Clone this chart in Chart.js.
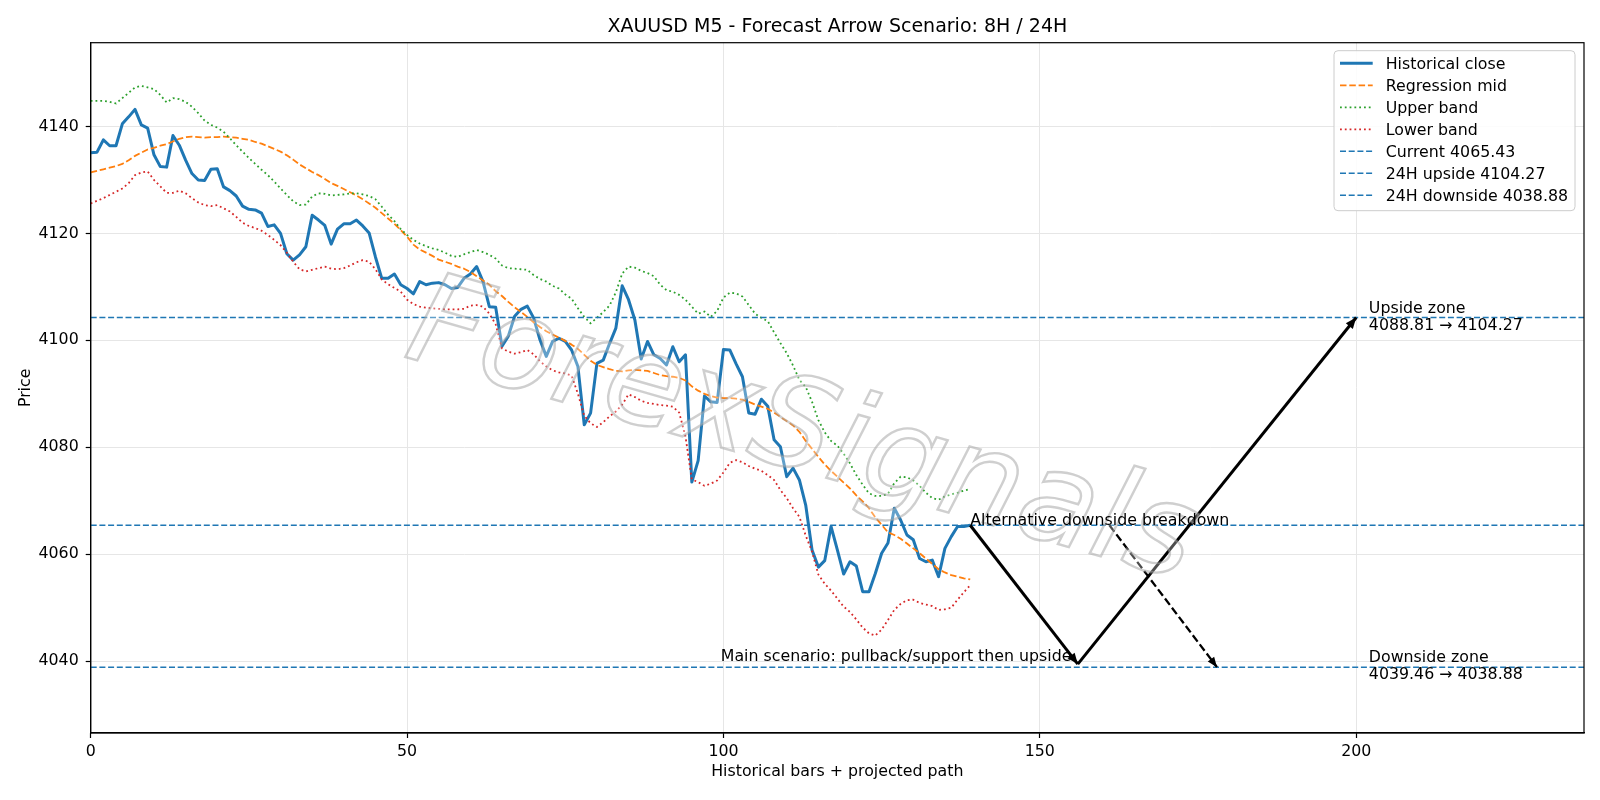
<!DOCTYPE html>
<html>
<head>
<meta charset="utf-8">
<script src="https://cdn.jsdelivr.net/npm/chart.js@4.4.1/dist/chart.umd.min.js"></script>
<style>
  html, body { margin: 0; padding: 0; background: #ffffff; }
  #wrap { width: 1600px; height: 800px; }
</style>
</head>
<body>
<div id="wrap"><canvas id="c" width="1600" height="800"></canvas></div>
<script>
// ---------------- DATA ----------------
const chartTitle = 'XAUUSD M5 - Forecast Arrow Scenario: 8H / 24H';
const xAxisTitle = 'Historical bars + projected path';
const yAxisTitle = 'Price';
const watermarkText = 'ForexSignals';

const historicalClose = [
  4135.1, 4135.2, 4137.5, 4136.4, 4136.4, 4140.5, 4141.8, 4143.2, 4140.3, 4139.7,
  4134.7, 4132.5, 4132.4, 4138.3, 4136.5, 4133.7, 4131.2, 4130.0, 4129.9, 4132.0,
  4132.1, 4128.7, 4128.0, 4127.0, 4125.1, 4124.5, 4124.4, 4123.8, 4121.3, 4121.6,
  4120.0, 4116.2, 4115.0, 4116.0, 4117.5, 4123.4, 4122.5, 4121.5, 4118.0, 4120.8,
  4121.8, 4121.8, 4122.5, 4121.4, 4120.1, 4115.6, 4111.6, 4111.6, 4112.4, 4110.4,
  4109.7, 4108.7, 4111.0, 4110.4, 4110.7, 4110.8, 4110.4, 4109.7, 4109.9, 4111.6,
  4112.4, 4113.8, 4111.0, 4106.3, 4106.2, 4098.9, 4100.8, 4104.5, 4105.8, 4106.4,
  4104.2, 4100.1, 4097.0, 4099.8, 4100.4, 4099.8, 4098.2, 4095.1, 4084.2, 4086.4,
  4095.7, 4096.3, 4099.4, 4102.3, 4110.2, 4107.6, 4103.8, 4096.5, 4099.8, 4097.3,
  4096.6, 4095.4, 4098.8, 4096.0, 4097.3, 4073.5, 4077.5, 4089.6, 4088.5, 4088.4,
  4098.3, 4098.2, 4095.6, 4093.2, 4086.4, 4086.2, 4089.0, 4087.7, 4081.4, 4080.1,
  4074.5, 4076.1, 4073.9, 4069.2, 4060.8, 4057.6, 4058.8, 4065.2, 4060.8, 4056.3,
  4058.6, 4057.8, 4053.0, 4053.0, 4056.4, 4060.2, 4062.1, 4068.6, 4066.4, 4063.6,
  4062.7, 4059.2, 4058.6, 4058.9, 4055.8, 4061.1, 4063.3, 4065.2, 4065.2, 4065.43
];

const regressionMid = [
  4131.4, 4131.7, 4132.0, 4132.3, 4132.6, 4133.0, 4133.7, 4134.5, 4135.1, 4135.7,
  4136.0, 4136.4, 4136.7, 4137.2, 4137.7, 4138.0, 4138.1, 4138.0, 4137.9, 4138.0,
  4138.0, 4138.1, 4138.0, 4137.9, 4137.7, 4137.5, 4137.1, 4136.8, 4136.3, 4135.8,
  4135.3, 4134.6, 4133.8, 4132.9, 4132.2, 4131.5, 4130.9, 4130.2, 4129.4, 4128.9,
  4128.3, 4127.7, 4127.1, 4126.4, 4125.6, 4124.8, 4123.8, 4122.8, 4121.8, 4120.6,
  4119.4, 4117.9, 4117.0, 4116.4, 4115.8, 4115.1, 4114.7, 4114.3, 4113.8, 4113.4,
  4112.8, 4112.0, 4111.2, 4110.4, 4109.2, 4108.3, 4107.2, 4106.2, 4105.3, 4104.4,
  4103.4, 4102.5, 4101.7, 4101.1, 4100.5, 4099.9, 4099.2, 4098.4, 4097.3, 4096.2,
  4095.4, 4095.0, 4094.6, 4094.3, 4094.2, 4094.4, 4094.5, 4094.4, 4094.3, 4093.9,
  4093.5, 4093.3, 4093.2, 4093.0, 4092.5, 4091.4, 4090.6, 4090.0, 4089.6, 4089.3,
  4089.2, 4089.2, 4089.1, 4088.9, 4088.5, 4088.0, 4087.6, 4087.2, 4086.5, 4085.7,
  4084.9, 4084.1, 4082.9, 4081.2, 4079.7, 4078.2, 4076.8, 4075.6, 4074.5, 4073.4,
  4072.3, 4071.0, 4069.9, 4068.6, 4066.9, 4065.5, 4064.1, 4063.6, 4062.9, 4062.0,
  4061.1, 4060.2, 4059.2, 4058.2, 4057.2, 4056.6, 4056.1, 4055.8, 4055.5, 4055.3
];

const upperBand = [
  4144.8, 4144.8, 4144.8, 4144.6, 4144.3, 4145.3, 4146.3, 4147.3, 4147.6, 4147.3,
  4147.0, 4145.9, 4144.5, 4145.3, 4145.1, 4144.6, 4143.7, 4142.5, 4141.1, 4140.3,
  4139.8, 4139.0, 4137.8, 4136.5, 4135.3, 4134.1, 4133.0, 4131.9, 4130.9, 4129.7,
  4128.4, 4127.2, 4126.0, 4125.3, 4125.4, 4126.9, 4127.5, 4127.4, 4127.1, 4127.2,
  4127.3, 4127.5, 4127.5, 4127.3, 4127.0, 4126.4, 4125.0, 4123.5, 4122.3, 4120.8,
  4119.7, 4118.8, 4118.1, 4117.6, 4117.2, 4116.9, 4116.4, 4115.8, 4115.6, 4116.1,
  4116.5, 4116.9, 4116.5, 4116.0, 4115.3, 4114.0, 4113.5, 4113.4, 4113.3, 4113.2,
  4112.2, 4111.5, 4111.0, 4110.2, 4109.7, 4108.6, 4107.8, 4106.0, 4104.4, 4103.2,
  4104.2, 4105.3, 4106.5, 4109.0, 4112.5, 4113.8, 4113.6, 4113.0, 4112.6, 4112.0,
  4110.4, 4109.4, 4109.1, 4108.5, 4107.6, 4106.3, 4105.0, 4105.4, 4104.4, 4105.5,
  4108.0, 4108.9, 4108.8, 4108.2, 4106.6, 4105.0, 4104.2, 4103.6, 4101.5, 4099.5,
  4097.6, 4095.3, 4092.6, 4091.3, 4088.5, 4085.1, 4082.8, 4081.2, 4080.3, 4078.8,
  4077.0, 4074.8, 4073.0, 4071.4, 4070.9, 4070.9, 4071.3, 4073.3, 4074.5, 4074.4,
  4073.8, 4072.8, 4071.5, 4070.5, 4070.2, 4070.8, 4071.2, 4071.5, 4071.9, 4072.2
];

const lowerBand = [
  4125.6, 4126.1, 4126.6, 4127.2, 4127.8, 4128.4, 4129.4, 4130.9, 4131.4, 4131.6,
  4130.0, 4128.8, 4127.6, 4127.6, 4128.0, 4127.5, 4126.6, 4125.8, 4125.3, 4125.1,
  4125.3, 4124.7, 4124.1, 4123.1, 4122.0, 4121.4, 4121.0, 4120.5, 4119.7, 4118.8,
  4117.8, 4116.4, 4114.7, 4113.3, 4112.9, 4113.2, 4113.5, 4113.8, 4113.4, 4113.3,
  4113.5, 4114.0, 4114.6, 4115.0, 4114.7, 4113.3, 4111.4, 4110.5, 4109.8, 4109.1,
  4107.6, 4106.8, 4106.3, 4106.1, 4106.0, 4105.9, 4105.8, 4105.8, 4105.8, 4105.9,
  4106.5, 4106.6, 4106.3, 4105.0, 4103.0, 4098.5, 4097.9, 4097.5, 4097.8, 4098.2,
  4097.4, 4096.1, 4095.1, 4094.4, 4094.0, 4093.8, 4093.4, 4090.0, 4085.9, 4084.5,
  4083.8, 4084.7, 4085.8, 4086.7, 4088.0, 4089.9, 4089.4, 4088.7, 4088.3, 4088.1,
  4087.9, 4087.8, 4087.6, 4086.5, 4082.0, 4074.0, 4073.5, 4072.8, 4073.2, 4073.8,
  4075.3, 4077.1, 4077.6, 4077.2, 4076.5, 4076.0, 4075.6, 4074.8, 4073.9, 4072.0,
  4070.5, 4068.6, 4067.0, 4063.5, 4060.5, 4056.2, 4054.5, 4053.2, 4051.7, 4050.2,
  4049.2, 4047.8, 4046.3, 4045.2, 4044.8, 4045.9, 4047.7, 4049.6, 4050.7, 4051.4,
  4051.5, 4050.9, 4050.6, 4050.3, 4049.6, 4049.7, 4050.0, 4051.5, 4052.9, 4054.2
];

// key levels
const currentPrice = 4065.43;
const upside24H = 4104.27;
const downside24H = 4038.88;
const upsideZone = [4088.81, 4104.27];
const downsideZone = [4039.46, 4038.88];

// projected scenario paths (bar index, price)
const mainPathX = [139, 156, 200];
const mainPathY = [4065.43, 4039.46, 4104.27];
const altPathX = [161, 178];
const altPathY = [4065.43, 4038.88];

// axes
const xMin = 0, xMax = 236, xStep = 50;
const yMin = 4026.57, yMax = 4155.67, yStep = 20;
const zoneLabelX = 202;

// ---------------- CHART ----------------
const FONT = "'DejaVu Sans', 'Liberation Sans', sans-serif";
const TXT = 15.8;
const C_BLUE = '#1f77b4', C_ORANGE = '#ff7f0e', C_GREEN = '#2ca02c', C_RED = '#d62728';

const toXY = arr => arr.map((v, i) => ({ x: i, y: v }));
const hline = v => [{ x: xMin, y: v }, { x: xMax, y: v }];
const pathPts = (xs, ys) => xs.map((x, i) => ({ x: x, y: ys[i] }));

const legendItems = [
  { label: 'Historical close', color: C_BLUE, width: 3, dash: [] },
  { label: 'Regression mid', color: C_ORANGE, width: 1.8, dash: [6.5, 2.8] },
  { label: 'Upper band', color: C_GREEN, width: 1.8, dash: [1.8, 3] },
  { label: 'Lower band', color: C_RED, width: 1.8, dash: [1.8, 3] },
  { label: 'Current ' + currentPrice.toFixed(2), color: C_BLUE, width: 1.5, dash: [6, 2.7] },
  { label: '24H upside ' + upside24H.toFixed(2), color: C_BLUE, width: 1.5, dash: [6, 2.7] },
  { label: '24H downside ' + downside24H.toFixed(2), color: C_BLUE, width: 1.5, dash: [6, 2.7] }
];

function lineDs(label, data, color, width, dash, order, extra) {
  return Object.assign({
    label: label, data: data, borderColor: color, backgroundColor: color,
    borderWidth: width, borderDash: dash, pointRadius: 0, pointHoverRadius: 0,
    fill: false, tension: 0, order: order, borderJoinStyle: 'round', borderCapStyle: 'butt'
  }, extra || {});
}

const datasets = [];
for (let s = 0; s < mainPathX.length - 1; s++) {
  datasets.push(lineDs('main' + s, pathPts(mainPathX.slice(s, s + 2), mainPathY.slice(s, s + 2)), '#000000', 3, [], 1));
}
datasets.push(lineDs('alt', pathPts(altPathX, altPathY), '#000000', 2.3, [8, 3.5], 1));
datasets.push(lineDs(legendItems[6].label, hline(downside24H), C_BLUE, 1.5, [6, 2.7], 2));
datasets.push(lineDs(legendItems[5].label, hline(upside24H), C_BLUE, 1.5, [6, 2.7], 2));
datasets.push(lineDs(legendItems[4].label, hline(currentPrice), C_BLUE, 1.5, [6, 2.7], 2));
datasets.push(lineDs('Lower band', toXY(lowerBand), C_RED, 1.8, [1.8, 3], 3));
datasets.push(lineDs('Upper band', toXY(upperBand), C_GREEN, 1.8, [1.8, 3], 4));
datasets.push(lineDs('Regression mid', toXY(regressionMid), C_ORANGE, 1.8, [6.5, 2.8], 5));
datasets.push(lineDs('Historical close', toXY(historicalClose), C_BLUE, 3, [], 6));

function arrowHead(ctx, x0, y0, x1, y1, len, half) {
  const dx = x1 - x0, dy = y1 - y0, L = Math.hypot(dx, dy);
  const ux = dx / L, uy = dy / L;
  const bx = x1 - ux * len, by = y1 - uy * len;
  ctx.beginPath();
  ctx.moveTo(x1, y1);
  ctx.lineTo(bx - uy * half, by + ux * half);
  ctx.lineTo(bx + uy * half, by - ux * half);
  ctx.closePath();
  ctx.fill();
}

const overlay = {
  id: 'overlay',
  afterDatasetsDraw(chart) {
    const { ctx, chartArea: a, scales } = chart;
    const X = v => scales.x.getPixelForValue(v);
    const Y = v => scales.y.getPixelForValue(v);

    // watermark
    ctx.save();
    ctx.beginPath(); ctx.rect(a.left, a.top, a.right - a.left, a.bottom - a.top); ctx.clip();
    ctx.translate(402, 356);
    ctx.rotate(16 * Math.PI / 180);
    ctx.font = 'italic 127px ' + FONT;
    ctx.textBaseline = 'alphabetic';
    ctx.fillStyle = 'rgba(255,255,255,0.3)';
    ctx.fillText(watermarkText, 0, 0);
    ctx.lineWidth = 2.4;
    ctx.strokeStyle = 'rgba(160,160,160,0.5)';
    ctx.strokeText(watermarkText, 0, 0);
    ctx.restore();

    // arrow heads
    ctx.save();
    ctx.fillStyle = '#000000';
    for (let s = 0; s < mainPathX.length - 1; s++) {
      arrowHead(ctx, X(mainPathX[s]), Y(mainPathY[s]), X(mainPathX[s + 1]), Y(mainPathY[s + 1]), 11, 4.5);
    }
    arrowHead(ctx, X(altPathX[0]), Y(altPathY[0]), X(altPathX[1]), Y(altPathY[1]), 10, 4);
    ctx.restore();

    // annotation texts
    ctx.save();
    ctx.fillStyle = '#000000';
    ctx.font = TXT + 'px ' + FONT;
    ctx.textBaseline = 'alphabetic';
    ctx.textAlign = 'left';
    ctx.fillText('Alternative downside breakdown', X(mainPathX[0]), Y(currentPrice));
    ctx.textAlign = 'right';
    ctx.fillText('Main scenario: pullback/support then upside', X(155), Y(mainPathY[1]) - 3.5);
    ctx.textAlign = 'left';
    const uy = Y(upside24H), dy = Y(downside24H), zx = X(zoneLabelX);
    ctx.fillText('Upside zone', zx, uy - 4.5);
    ctx.fillText(upsideZone[0].toFixed(2) + ' \u2192 ' + upsideZone[1].toFixed(2), zx, uy + 12);
    ctx.fillText('Downside zone', zx, dy - 4.8);
    ctx.fillText(downsideZone[0].toFixed(2) + ' \u2192 ' + downsideZone[1].toFixed(2), zx, dy + 12);
    ctx.restore();
  },
  afterDraw(chart) {
    const { ctx, chartArea: a } = chart;
    // spines
    ctx.save();
    ctx.strokeStyle = '#000000';
    ctx.lineWidth = 1.2;
    ctx.strokeRect(a.left, a.top, a.right - a.left, a.bottom - a.top);
    ctx.restore();

    // title
    ctx.save();
    ctx.fillStyle = '#000000';
    ctx.font = '19px ' + FONT;
    ctx.textAlign = 'center';
    ctx.textBaseline = 'alphabetic';
    ctx.fillText(chartTitle, (a.left + a.right) / 2, 31.5);
    ctx.restore();

    // legend
    ctx.save();
    const lx = 1334, ly = 50.7, lw = 241, lh = 160, r = 4;
    ctx.beginPath();
    ctx.moveTo(lx + r, ly);
    ctx.arcTo(lx + lw, ly, lx + lw, ly + lh, r);
    ctx.arcTo(lx + lw, ly + lh, lx, ly + lh, r);
    ctx.arcTo(lx, ly + lh, lx, ly, r);
    ctx.arcTo(lx, ly, lx + lw, ly, r);
    ctx.closePath();
    ctx.fillStyle = 'rgba(255,255,255,0.85)';
    ctx.fill();
    ctx.strokeStyle = '#cccccc';
    ctx.lineWidth = 1;
    ctx.stroke();
    ctx.font = TXT + 'px ' + FONT;
    ctx.textAlign = 'left';
    ctx.textBaseline = 'alphabetic';
    legendItems.forEach((it, k) => {
      const cy = 63.3 + k * 22;
      ctx.beginPath();
      ctx.setLineDash(it.dash);
      ctx.lineWidth = it.width;
      ctx.strokeStyle = it.color;
      ctx.moveTo(1340, cy);
      ctx.lineTo(1372.7, cy);
      ctx.stroke();
      ctx.setLineDash([]);
      ctx.fillStyle = '#000000';
      ctx.fillText(it.label, 1385.7, cy + 5.8);
    });
    ctx.restore();
  }
};

const tickFont = { family: FONT, size: TXT };

new Chart(document.getElementById('c'), {
  type: 'line',
  data: { datasets: datasets },
  options: {
    responsive: false,
    devicePixelRatio: 1,
    animation: false,
    events: [],
    layout: { padding: { top: 42.7, right: 16, bottom: 0, left: 0 } },
    plugins: { legend: { display: false }, tooltip: { enabled: false }, title: { display: false } },
    scales: {
      x: {
        type: 'linear', min: xMin, max: xMax,
        afterFit: s => { s.height = 67; },
        ticks: { stepSize: xStep, includeBounds: false, color: '#000', font: tickFont, padding: 4, maxRotation: 0,
                 callback: v => String(v) },
        grid: { color: '#e6e6e6', lineWidth: 1, tickColor: '#000', tickLength: 5, tickWidth: 1.2 },
        border: { display: true, color: '#000', width: 1.2 },
        title: { display: true, text: xAxisTitle, color: '#000', font: tickFont, padding: { top: 0, bottom: 18.5 } }
      },
      y: {
        type: 'linear', min: yMin, max: yMax,
        afterFit: s => { s.width = 90.7; },
        ticks: { stepSize: yStep, includeBounds: false, color: '#000', font: tickFont, padding: 7,
                 callback: v => String(v) },
        grid: { color: '#e6e6e6', lineWidth: 1, tickColor: '#000', tickLength: 5, tickWidth: 1.2 },
        border: { display: true, color: '#000', width: 1.2 },
        title: { display: true, text: yAxisTitle, color: '#000', font: tickFont, padding: { top: 16, bottom: 0 } }
      }
    }
  },
  plugins: [overlay]
});
</script>
</body>
</html>
